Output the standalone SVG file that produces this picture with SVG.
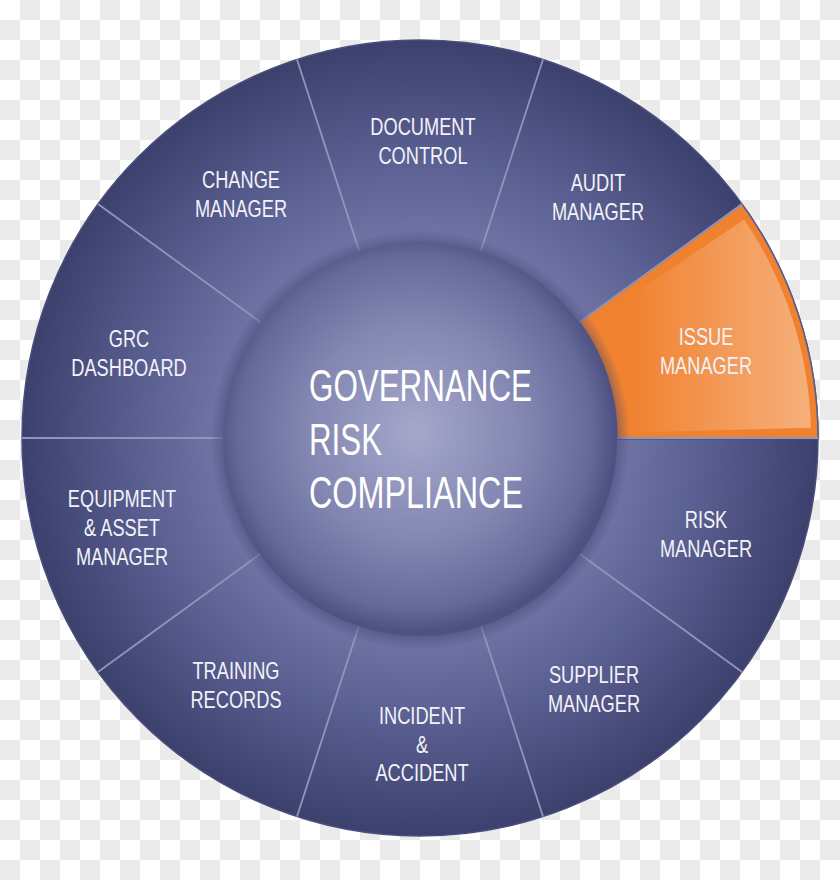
<svg xmlns="http://www.w3.org/2000/svg" width="840" height="880" viewBox="0 0 840 880">
  <defs>
    <pattern id="checker" x="0" y="0" width="40" height="40" patternUnits="userSpaceOnUse">
      <rect width="40" height="40" fill="#ffffff"/>
      <rect x="20" y="0" width="20" height="20" fill="#ebebeb"/>
      <rect x="0" y="20" width="20" height="20" fill="#ebebeb"/>
    </pattern>
    <radialGradient id="ringGrad" gradientUnits="userSpaceOnUse" cx="420" cy="438" r="398">
      <stop offset="0.48" stop-color="#7277a8"/>
      <stop offset="0.72" stop-color="#595e90"/>
      <stop offset="1" stop-color="#3c406d"/>
    </radialGradient>
    <radialGradient id="hubGrad" gradientUnits="userSpaceOnUse" cx="415" cy="432" r="200">
      <stop offset="0" stop-color="#a5a8cb"/>
      <stop offset="0.55" stop-color="#8286b1"/>
      <stop offset="0.88" stop-color="#666a99"/>
      <stop offset="1" stop-color="#4e5282"/>
    </radialGradient>
    <radialGradient id="shadowGrad" gradientUnits="userSpaceOnUse" cx="420" cy="440" r="210">
      <stop offset="0.9" stop-color="#3e4270" stop-opacity="0.7"/>
      <stop offset="1" stop-color="#3e4270" stop-opacity="0"/>
    </radialGradient>
    <linearGradient id="orangeGrad" gradientUnits="userSpaceOnUse" x1="630" y1="0" x2="812" y2="0">
      <stop offset="0" stop-color="#f08230"/>
      <stop offset="1" stop-color="#f6b07c"/>
    </linearGradient>
    <style>
      .lbl { font-family: "Liberation Sans", Arial, sans-serif; font-size: 24px; fill: #f2f2f8; text-anchor: middle; }
      .hub { font-family: "Liberation Sans", Arial, sans-serif; font-size: 44px; fill: #ffffff; }
      .div { stroke: #9096b8; stroke-width: 1.8; fill: none; }
      .divs { stroke: #474b78; stroke-width: 1.2; fill: none; opacity: 0.6; }
    </style>
  </defs>

  <rect width="840" height="880" fill="url(#checker)"/>

  <g id="ring">
    <circle cx="420" cy="438" r="398" fill="url(#ringGrad)" stroke="#4a4e7c" stroke-width="1.5"/>
  </g>

  <g id="issue-manager">
    <path d="M 617,438 L 818,438 A 398 398 0 0 0 742.0,204.1 L 579.4,322.2 A 197 197 0 0 1 617,438 Z" fill="#ef812f" stroke="#5a5e8a" stroke-width="1.5"/>
    <path d="M 619.9,432.8 L 810.9,427.8 A 391 391 0 0 0 744.2,219.4 L 585.8,326.2 A 200 200 0 0 1 619.9,432.8 Z" fill="url(#orangeGrad)"/>
    <g transform="translate(706 0) scale(0.76 1)">
      <text class="lbl" x="0" y="345">ISSUE</text>
      <text class="lbl" x="0" y="374">MANAGER</text>
    </g>
  </g>

  <g id="dividers">
    <line class="divs" x1="617" y1="439.5" x2="818" y2="439.5"/>
    <line class="div" x1="617" y1="438" x2="818" y2="438"/>
    <line class="div" x1="579.4" y1="322.2" x2="742.0" y2="204.1"/>
    <line class="div" x1="480.9" y1="250.6" x2="543.0" y2="59.5"/>
    <line class="div" x1="359.1" y1="250.6" x2="297.0" y2="59.5"/>
    <line class="div" x1="260.6" y1="322.2" x2="98.0" y2="204.1"/>
    <line class="div" x1="223" y1="438" x2="22" y2="438"/>
    <line class="div" x1="260.6" y1="553.8" x2="98.0" y2="671.9"/>
    <line class="div" x1="359.1" y1="625.4" x2="297.0" y2="816.5"/>
    <line class="div" x1="480.9" y1="625.4" x2="543.0" y2="816.5"/>
    <line class="div" x1="579.4" y1="553.8" x2="742.0" y2="671.9"/>
  </g>

  <g id="document-control" transform="translate(423 0) scale(0.76 1)">
    <text class="lbl" x="0" y="135">DOCUMENT</text>
    <text class="lbl" x="0" y="164">CONTROL</text>
  </g>
  <g id="audit-manager" transform="translate(598 0) scale(0.76 1)">
    <text class="lbl" x="0" y="191">AUDIT</text>
    <text class="lbl" x="0" y="220">MANAGER</text>
  </g>
  <g id="change-manager" transform="translate(241 0) scale(0.76 1)">
    <text class="lbl" x="0" y="188">CHANGE</text>
    <text class="lbl" x="0" y="217">MANAGER</text>
  </g>
  <g id="grc-dashboard" transform="translate(129 0) scale(0.76 1)">
    <text class="lbl" x="0" y="347">GRC</text>
    <text class="lbl" x="0" y="376">DASHBOARD</text>
  </g>
  <g id="equipment-asset-manager" transform="translate(122 0) scale(0.76 1)">
    <text class="lbl" x="0" y="507">EQUIPMENT</text>
    <text class="lbl" x="0" y="536">&amp; ASSET</text>
    <text class="lbl" x="0" y="565">MANAGER</text>
  </g>
  <g id="risk-manager" transform="translate(706 0) scale(0.76 1)">
    <text class="lbl" x="0" y="528">RISK</text>
    <text class="lbl" x="0" y="557">MANAGER</text>
  </g>
  <g id="training-records" transform="translate(236 0) scale(0.76 1)">
    <text class="lbl" x="0" y="679">TRAINING</text>
    <text class="lbl" x="0" y="708">RECORDS</text>
  </g>
  <g id="incident-accident" transform="translate(422 0) scale(0.76 1)">
    <text class="lbl" x="0" y="724">INCIDENT</text>
    <text class="lbl" x="0" y="753">&amp;</text>
    <text class="lbl" x="0" y="781">ACCIDENT</text>
  </g>
  <g id="supplier-manager" transform="translate(594 0) scale(0.76 1)">
    <text class="lbl" x="0" y="683">SUPPLIER</text>
    <text class="lbl" x="0" y="712">MANAGER</text>
  </g>

  <g id="grc-hub">
    <circle cx="420" cy="440" r="210" fill="url(#shadowGrad)"/>
    <circle cx="420" cy="439" r="197" fill="url(#hubGrad)"/>
    <text class="hub" x="309" y="401" textLength="223" lengthAdjust="spacingAndGlyphs">GOVERNANCE</text>
    <text class="hub" x="309" y="455" textLength="73" lengthAdjust="spacingAndGlyphs">RISK</text>
    <text class="hub" x="309" y="508" textLength="214" lengthAdjust="spacingAndGlyphs">COMPLIANCE</text>
  </g>
</svg>
